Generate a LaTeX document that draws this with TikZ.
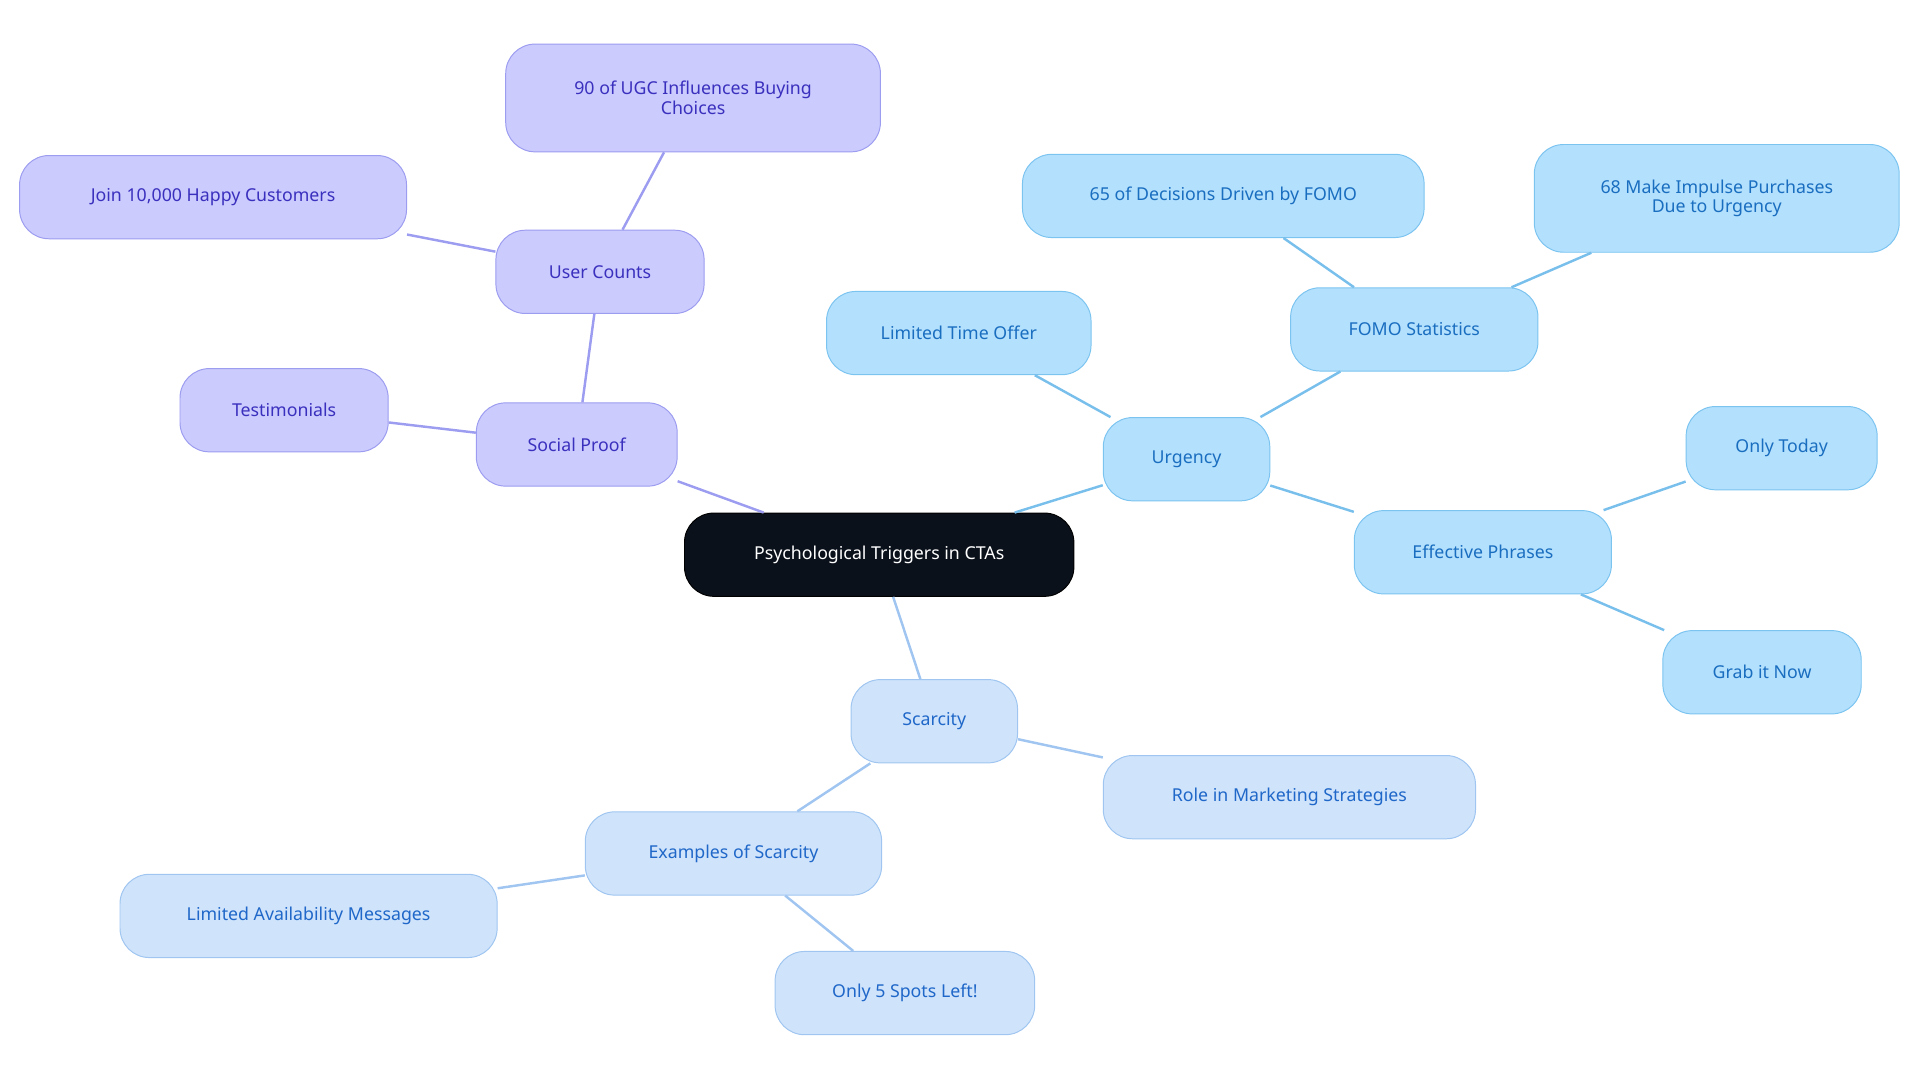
\documentclass[tikz,border=0pt]{standalone}
\usepackage{fontspec}
\setmainfont{Noto Sans}
\begin{document}
\begin{tikzpicture}[x=1pt,y=-1pt,
 base/.style={rounded corners=24pt,minimum height=68pt,align=center,font=\fontsize{14.5}{16}\selectfont,line width=0.8pt,inner sep=0pt},
 pur/.style={base,fill=purF,draw=purD,text=purT},
 blu/.style={base,fill=bluF,draw=bluD,text=bluT},
 lbl/.style={base,fill=lblF,draw=lblD,text=lblT},
 ep/.style={draw=purD,line width=2pt},
 eb/.style={draw=bluE,line width=2pt},
 el/.style={draw=lblD,line width=2pt}]
\definecolor{purF}{HTML}{CBCBFD}\definecolor{purD}{HTML}{9C9CF0}\definecolor{purT}{HTML}{3A30BE}
\definecolor{bluF}{HTML}{B3E0FD}\definecolor{bluD}{HTML}{7CC4F0}\definecolor{bluT}{HTML}{1A6EC0}\definecolor{bluE}{HTML}{79BFEC}
\definecolor{lblF}{HTML}{CFE3FB}\definecolor{lblD}{HTML}{9FC5F0}\definecolor{lblT}{HTML}{1F67C8}
\useasboundingbox (0,0) rectangle (1568,884);
\node[base,fill={rgb,255:red,11;green,17;blue,27},draw=black,text=white,minimum width=318pt] (c) at (718,453) {Psychological Triggers in CTAs};
\node[pur,minimum width=164pt] (sp) at (471,363) {Social Proof};
\node[pur,minimum width=170pt] (te) at (232,335) {Testimonials};
\node[pur,minimum width=170pt] (uc) at (490,222) {User Counts};
\node[pur,minimum width=316pt] (jo) at (174,161) {Join 10,000 Happy Customers};
\node[pur,minimum width=306pt,minimum height=88pt] (ug) at (566,80) {90 of UGC Influences Buying\\Choices};
\node[blu,minimum width=136pt] (ur) at (969,375) {Urgency};
\node[blu,minimum width=216pt] (lt) at (783,272) {Limited Time Offer};
\node[blu,minimum width=202pt] (fo) at (1155,269) {FOMO Statistics};
\node[blu,minimum width=328pt] (d65) at (999,160) {65 of Decisions Driven by FOMO};
\node[blu,minimum width=298pt,minimum height=88pt] (d68) at (1402,162) {68 Make Impulse Purchases\\Due to Urgency};
\node[blu,minimum width=210pt] (ef) at (1211,451) {Effective Phrases};
\node[blu,minimum width=156pt] (ot) at (1455,366) {Only Today};
\node[blu,minimum width=162pt] (gr) at (1439,549) {Grab it Now};
\node[lbl,minimum width=136pt] (sc) at (763,589) {Scarcity};
\node[lbl,minimum width=304pt] (ro) at (1053,651) {Role in Marketing Strategies};
\node[lbl,minimum width=242pt] (ex) at (599,697) {Examples of Scarcity};
\node[lbl,minimum width=308pt] (la) at (252,748) {Limited Availability Messages};
\node[lbl,minimum width=212pt] (o5) at (739,811) {Only 5 Spots Left!};
\begin{scope}[on background layer/.style={}]
\end{scope}
\begin{pgfonlayer}{main}\end{pgfonlayer}
\draw[ep] (c) -- (sp); \draw[ep] (sp) -- (te); \draw[ep] (sp) -- (uc);
\draw[ep] (uc) -- (jo); \draw[ep] (uc) -- (ug);
\draw[eb] (c) -- (ur); \draw[eb] (ur) -- (lt); \draw[eb] (ur) -- (fo);
\draw[eb] (fo) -- (d65); \draw[eb] (fo) -- (d68); \draw[eb] (ur) -- (ef);
\draw[eb] (ef) -- (ot); \draw[eb] (ef) -- (gr);
\draw[el] (c) -- (sc); \draw[el] (sc) -- (ro); \draw[el] (sc) -- (ex);
\draw[el] (ex) -- (la); \draw[el] (ex) -- (o5);
\end{tikzpicture}
\end{document}
